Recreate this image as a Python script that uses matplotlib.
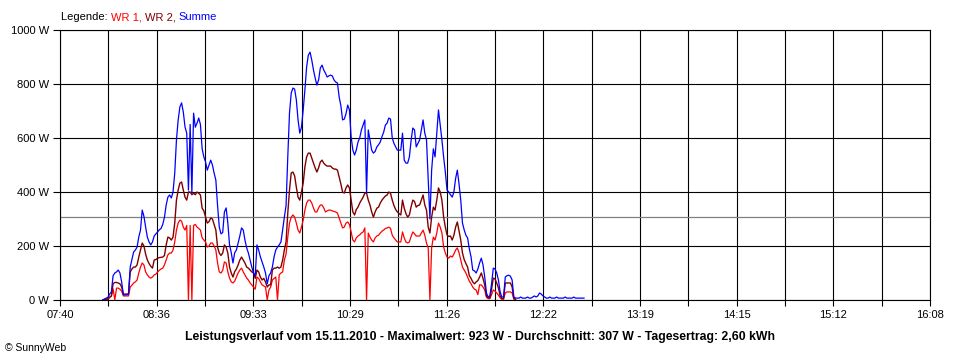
import numpy as np
import matplotlib
matplotlib.use("Agg")
import matplotlib.pyplot as plt

plt.rcParams['font.family'] = ['Liberation Sans', 'DejaVu Sans']

# one value per minute, starting at 08:05
start = "08:05"

wr1 = [0, 2, 3, 4, 10, 15, 41, 0, 44, 44, 40, 33, 15, 15, 15, 15, 48, 55, 63, 67,
       74, 100, 122, 137, 130, 104, 93, 85, 81, 85, 93, 96, 104, 110, 115, 118, 130, 148, 167, 174,
       174, 185, 215, 259, 285, 296, 292, 270, 259, 276, 0, 276, 0, 276, 280, 270, 265, 259, 230, 222,
       215, 196, 200, 211, 211, 200, 185, 137, 104, 100, 110, 141, 137, 104, 81, 67, 63, 70, 85, 100,
       111, 118, 104, 93, 81, 74, 63, 56, 48, 40, 85, 80, 67, 56, 52, 48, 0, 37, 48, 74,
       80, 85, 0, 93, 100, 104, 148, 170, 233, 285, 307, 315, 307, 285, 259, 248, 270, 296, 333, 359,
       370, 370, 359, 341, 326, 326, 341, 352, 352, 341, 326, 330, 333, 333, 330, 328, 326, 322, 304, 285,
       267, 270, 285, 289, 280, 252, 222, 215, 230, 237, 241, 248, 252, 267, 0, 248, 233, 222, 215, 230,
       237, 240, 248, 255, 259, 265, 267, 270, 265, 240, 230, 222, 215, 215, 215, 252, 230, 215, 211, 215,
       235, 252, 245, 237, 237, 237, 248, 259, 240, 211, 193, 0, 193, 233, 222, 248, 285, 270, 248, 196,
       174, 159, 155, 163, 159, 170, 185, 193, 175, 148, 122, 111, 100, 85, 70, 60, 48, 40, 37, 20,
       56, 56, 48, 37, 10, 5, 5, 20, 37, 33, 26, 18, 8, 3, 3, 26, 30, 30, 30, 26,
       3, 2]

wr2 = [0, 2, 3, 4, 10, 15, 60, 65, 65, 63, 60, 48, 22, 22, 22, 22, 104, 115, 122, 122,
       130, 159, 185, 211, 200, 170, 148, 135, 125, 118, 148, 150, 155, 157, 158, 159, 165, 204, 233, 230,
       222, 233, 285, 370, 407, 433, 437, 407, 381, 370, 400, 400, 390, 395, 390, 400, 395, 389, 340, 330,
       307, 285, 290, 304, 300, 280, 259, 196, 174, 165, 174, 204, 196, 174, 122, 100, 85, 105, 115, 130,
       148, 159, 148, 137, 122, 118, 111, 104, 100, 80, 111, 104, 85, 74, 80, 67, 48, 56, 56, 111,
       118, 118, 122, 118, 122, 148, 185, 215, 322, 407, 470, 474, 460, 418, 381, 370, 400, 433, 493, 530,
       544, 544, 526, 507, 489, 474, 490, 511, 518, 507, 500, 496, 496, 496, 489, 485, 485, 481, 456, 430,
       400, 396, 415, 426, 415, 370, 326, 315, 335, 344, 359, 370, 381, 396, 396, 370, 352, 326, 307, 326,
       340, 344, 359, 370, 378, 385, 389, 400, 395, 370, 350, 335, 326, 320, 315, 370, 340, 320, 307, 315,
       345, 370, 365, 344, 350, 352, 370, 389, 352, 333, 270, 248, 307, 344, 333, 370, 415, 400, 370, 307,
       270, 241, 235, 237, 222, 240, 270, 289, 255, 222, 174, 150, 135, 122, 90, 80, 67, 60, 67, 72,
       85, 100, 80, 56, 15, 8, 8, 40, 81, 78, 63, 45, 15, 5, 5, 63, 63, 63, 63, 48,
       5, 3]

summe = [0, 4, 7, 10, 22, 30, 90, 100, 104, 111, 100, 67, 19, 19, 19, 22, 122, 150, 178, 185,
         196, 233, 259, 333, 310, 270, 233, 215, 204, 215, 237, 245, 252, 260, 265, 280, 307, 352, 381, 389,
         378, 400, 470, 593, 667, 715, 730, 696, 641, 618, 407, 650, 396, 692, 640, 655, 674, 650, 560, 530,
         511, 481, 500, 518, 500, 470, 444, 350, 270, 245, 250, 326, 341, 285, 204, 175, 137, 175, 185, 211,
         237, 267, 259, 222, 193, 174, 148, 122, 100, 90, 204, 185, 160, 141, 122, 100, 60, 90, 100, 122,
         160, 185, 196, 204, 215, 259, 307, 350, 530, 692, 766, 785, 781, 741, 667, 618, 640, 704, 778, 863,
         907, 918, 889, 852, 822, 796, 815, 859, 870, 852, 840, 826, 830, 833, 830, 815, 807, 804, 752, 720,
         667, 670, 690, 722, 704, 604, 555, 537, 555, 585, 600, 630, 648, 667, 396, 630, 593, 555, 544, 550,
         567, 575, 585, 605, 622, 648, 655, 674, 670, 600, 580, 567, 555, 555, 555, 618, 518, 507, 507, 530,
         590, 637, 630, 567, 580, 593, 630, 667, 618, 593, 444, 300, 481, 560, 530, 618, 704, 650, 593, 530,
         474, 407, 400, 390, 381, 400, 450, 481, 430, 370, 285, 260, 240, 230, 190, 160, 111, 108, 100, 115,
         137, 155, 130, 85, 26, 11, 15, 60, 118, 115, 100, 74, 30, 11, 11, 85, 90, 92, 88, 74,
         11, 7,
         7, 7, 11, 7, 7, 7, 11, 7, 7, 11, 15, 11, 15, 26, 22, 15, 11, 7, 7, 11,
         7, 7, 7, 11, 7, 7, 7, 7, 11, 7, 7, 7, 7, 11, 7, 7, 7, 7, 7, 7]

average = 307
tick_labels = ["07:40", "08:36", "09:33", "10:29", "11:26", "12:22", "13:19", "14:15", "15:12", "16:08"]
title = ("Leistungsverlauf vom 15.11.2010 - Maximalwert: 923 W - Durchschnitt: 307 W"
         " - Tagesertrag: 2,60 kWh")

RED = "#ff0000"
DARKRED = "#800000"
BLUE = "#0000ff"


def to_min(s):
    h, m = s.split(":")
    return int(h) * 60 + int(m)


t0 = to_min(start)
t_all = t0 + np.arange(len(summe))
t_wr = t0 + np.arange(len(wr1))
xmin = to_min(tick_labels[0])
xmax = to_min(tick_labels[-1])

fig = plt.figure(figsize=(9.6, 3.6), dpi=100)
ax = fig.add_axes([60 / 960, 60 / 360, 870 / 960, 270 / 360])

ax.plot(t_wr, wr1, color=RED, lw=0.9, zorder=3)
ax.plot(t_wr, wr2, color=DARKRED, lw=1.0, zorder=4)
ax.plot(t_all, summe, color=BLUE, lw=0.9, zorder=5)
ax.axhline(average, color="#808080", lw=0.9, zorder=2)

ax.set_xlim(xmin, xmax)
ax.set_ylim(0, 1000)
xt = np.linspace(xmin, xmax, 19)
ax.set_xticks(xt)
ax.set_xticklabels([tick_labels[i // 2] if i % 2 == 0 else "" for i in range(19)])
ax.set_yticks(np.arange(0, 1001, 200))
ax.set_yticklabels(["%d W" % v for v in range(0, 1001, 200)])
ax.grid(True, color="black", lw=0.8, zorder=1)
ax.set_axisbelow(True)
for sp in ax.spines.values():
    sp.set_color("black")
    sp.set_linewidth(0.8)
ax.tick_params(axis="x", direction="out", length=4, width=0.8, pad=3, labelsize=8)
ax.tick_params(axis="y", direction="out", length=5, width=0.8, pad=3, labelsize=8)

fig.text(0.5, 1 - 337 / 360, title, ha="center", va="center",
         fontsize=8.8, fontweight="bold")
fig.text(5 / 960, 1 - 348 / 360, "\u00a9 SunnyWeb", ha="left", va="center", fontsize=7.5)

# coloured legend line at the top
r = fig.canvas.get_renderer()
x = 61 / 960
for s, c in [("Legende: ", "black"), ("WR 1, ", RED), ("WR 2, ", DARKRED), ("Summe", BLUE)]:
    tx = fig.text(x, 1 - 17 / 360, s, color=c, ha="left", va="center", fontsize=8)
    x += tx.get_window_extent(r).width / 960

fig.savefig("out.png", dpi=100)
